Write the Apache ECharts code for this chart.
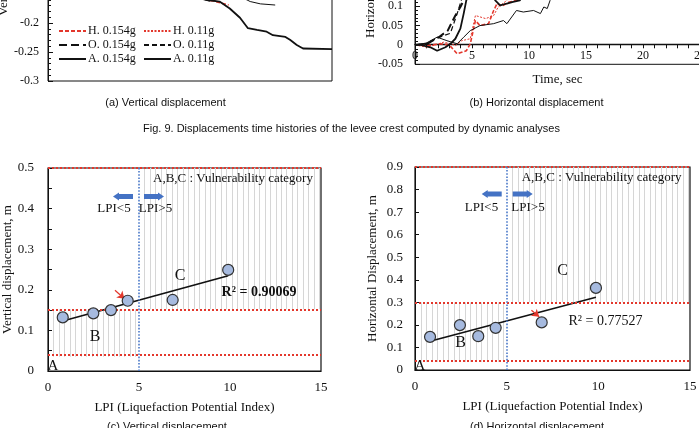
<!DOCTYPE html>
<html lang="en">
<head>
<meta charset="UTF-8">
<title>Fig. 9 / Fig. 10</title>
<script src="https://cdn.jsdelivr.net/npm/echarts@6/dist/echarts.min.js"></script>
<style>
    html, body { margin: 0; padding: 0; background: #fff; }
    #main { width: 699px; height: 428px; }
</style>
</head>
<body>
<div id="main"></div>
<script>
    // ---- (a) vertical displacement time histories [time s, disp m]
    var vH154 = [[13.8, -0.158], [14.1, -0.161], [14.6, -0.162], [15.3, -0.166], [15.9, -0.169]];
    var vH11 = [[14.0, -0.158], [14.4, -0.161], [14.8, -0.162]];
    var vO154 = [[13.6, -0.157], [14.1, -0.161], [14.4, -0.162]];
    var vO11 = [[13.8, -0.157], [14.2, -0.160]];
    var vA154 = [[13.5, -0.158], [13.9, -0.160], [15.1, -0.163], [16.0, -0.175], [16.9, -0.191], [17.6, -0.209],
        [18.4, -0.212], [19.25, -0.215], [19.8, -0.221], [20.9, -0.224], [21.3, -0.229], [21.9, -0.238],
        [22.45, -0.244], [25, -0.245]];
    var vA11 = [[17.2, -0.158], [17.5, -0.160], [17.8, -0.163], [18.7, -0.167], [20.0, -0.169]];

    // ---- (b) horizontal displacement time histories
    var hH154 = [[0, 0], [1.07, -0.002], [2.2, 0.003], [3.0, 0.0], [3.7, -0.023], [4.5, -0.015], [4.85, 0.003],
        [5.3, 0.063], [5.7, 0.05], [6.45, 0.055], [6.9, 0.089], [7.2, 0.107], [7.6, 0.1], [8.2, 0.11], [8.9, 0.115], [9.2, 0.14]];
    var hH11 = [[0, 0], [1.07, -0.006], [2.5, 0.007], [3.2, 0.003], [3.54, -0.002], [4.1, 0.011], [4.85, 0.016],
        [5.3, 0.076], [6.2, 0.068], [6.9, 0.076], [7.3, 0.098], [8.06, 0.115], [8.5, 0.14]];
    var hO154 = [[0, 0], [1.07, 0.003], [2.08, 0.02], [2.87, 0.037], [3.54, 0.076], [3.98, 0.098], [4.27, 0.115], [4.6, 0.14]];
    var hO11 = [[0, 0], [1.0, 0.004], [1.94, 0.018], [3.1, 0.03], [3.7, 0.081], [4.06, 0.115], [4.4, 0.14]];
    var hA154 = [[0, 0], [0.5, 0], [1.35, -0.006], [1.94, -0.015], [2.67, -0.006], [3.1, 0.003], [3.54, 0.016],
        [3.98, 0.042], [4.27, 0.081], [4.5, 0.115], [5.0, 0.15], [6.5, 0.15], [7.04, 0.115], [7.47, 0.102],
        [8.06, 0.107], [8.6, 0.111], [9.2, 0.115], [9.6, 0.14]];
    var hA11 = [[0, 0], [1.0, 0.005], [1.94, 0.02], [2.8, 0.011], [3.7, 0.003], [4.27, 0.02], [4.85, 0.037],
        [5.7, 0.05], [6.9, 0.055], [7.76, 0.063], [8.06, 0.055], [8.9, 0.089], [9.5, 0.085], [10.4, 0.089],
        [11, 0.081], [11.3, 0.098], [11.6, 0.094], [11.85, 0.115], [12.2, 0.14]];

    // ---- (c)/(d) LPI vs displacement
    var lpiV = [0.81, 2.49, 3.46, 4.38, 6.85, 9.9];
    var dispV = [0.132, 0.142, 0.150, 0.173, 0.175, 0.249];
    var lpiH = [0.82, 2.45, 3.45, 4.4, 6.91, 9.87];
    var dispH = [0.147, 0.199, 0.150, 0.187, 0.211, 0.364];
    // category boundaries (A/B, B/C, top)
    var boundV = [0.035, 0.152, 0.5];
    var boundH = [0.035, 0.3, 0.9];
    var lpiLimit = 5;

    var myChart = echarts.init(document.getElementById('main'));
    var serif = 'Liberation Serif';
    var red = '#e3372c';
    var blue = '#4a78c8';

    function pairs(xs, ys) {
        var out = [];
        for (var i = 0; i < xs.length; i++) out.push([xs[i], ys[i]]);
        return out;
    }

    // least squares line over the range of the points
    function fitLine(xs, ys) {
        var n = xs.length, mx = 0, my = 0, sxy = 0, sxx = 0;
        for (var i = 0; i < n; i++) { mx += xs[i]; my += ys[i]; }
        mx /= n; my /= n;
        for (var j = 0; j < n; j++) {
            sxy += (xs[j] - mx) * (ys[j] - my);
            sxx += (xs[j] - mx) * (xs[j] - mx);
        }
        var b = sxy / sxx, a = my - b * mx;
        var x0 = Math.min.apply(null, xs), x1 = Math.max.apply(null, xs);
        return [[x0, a + b * x0], [x1, a + b * x1]];
    }

    var styles = {
        'H. 0.154g': { color: red, width: 1.6, type: [4, 2] },
        'H. 0.11g': { color: red, width: 1, type: [2, 1.5] },
        'O. 0.154g': { color: '#111', width: 2, type: [8, 4] },
        'O. 0.11g': { color: '#111', width: 1.2, type: [5, 3] },
        'A. 0.154g': { color: '#111', width: 1.8, type: 'solid' },
        'A. 0.11g': { color: '#111', width: 1, type: 'solid' }
    };

    function tsLine(name, data, idx) {
        return {
            name: name, type: 'line', xAxisIndex: idx, yAxisIndex: idx,
            data: data, symbol: 'none', showSymbol: false, z: 3,
            lineStyle: styles[name], itemStyle: { color: styles[name].color }
        };
    }

    // vertical hatching inside rectangles [x0, x1, y0, y1]
    function hatch(idx, rects) {
        return {
            type: 'custom', xAxisIndex: idx, yAxisIndex: idx, silent: true, z: 1,
            data: rects,
            renderItem: function (params, api) {
                var x0 = api.value(0), x1 = api.value(1), y0 = api.value(2), y1 = api.value(3);
                var kids = [];
                for (var x = x0 + 0.3; x < x1 - 0.05; x += 0.3) {
                    var p0 = api.coord([x, y0]), p1 = api.coord([x, y1]);
                    var px = Math.round(p0[0]) + 0.5;
                    kids.push({
                        type: 'line',
                        shape: { x1: px, y1: p0[1], x2: px, y2: p1[1] },
                        style: { stroke: '#d6d6d6', lineWidth: 1 }
                    });
                }
                return { type: 'group', children: kids };
            }
        };
    }

    function pointSeries(idx, xs, ys, bounds) {
        return {
            type: 'scatter', xAxisIndex: idx, yAxisIndex: idx, z: 5,
            data: pairs(xs, ys), symbolSize: 11,
            itemStyle: { color: '#a6badf', borderColor: '#333', borderWidth: 1.2, opacity: 1 },
            markLine: {
                silent: true, symbol: 'none', label: { show: false },
                lineStyle: { color: red, type: 'dotted', width: 2 },
                data: [{ yAxis: bounds[0] }, { yAxis: bounds[1] }, { yAxis: bounds[2] },
                    { xAxis: lpiLimit, lineStyle: { color: blue, type: 'dotted', width: 1.6 } }]
            }
        };
    }

    function trend(idx, xs, ys) {
        return {
            type: 'line', xAxisIndex: idx, yAxisIndex: idx, z: 4,
            data: fitLine(xs, ys), symbol: 'none',
            lineStyle: { color: '#111', width: 1.6 }
        };
    }

    function redArrow(idx, from, to) {
        return {
            type: 'scatter', xAxisIndex: idx, yAxisIndex: idx, data: [], z: 6,
            markLine: {
                silent: true, symbol: ['none', 'arrow'], symbolSize: 7, label: { show: false },
                lineStyle: { color: red, type: 'solid', width: 1.2 },
                data: [[{ coord: from }, { coord: to }]]
            }
        };
    }

    function fatArrow(tipX, tailX, y) {
        var d = tipX < tailX ? 1 : -1, neck = tipX + d * 6;
        return {
            type: 'polygon', silent: true, z: 100,
            shape: { points: [[tipX, y], [neck, y - 4], [neck, y - 2.5], [tailX, y - 2.5], [tailX, y + 2.5], [neck, y + 2.5], [neck, y + 4]] },
            style: { fill: '#4472c4' }
        };
    }

    function txt(x, y, s, font, align, extra) {
        var o = {
            type: 'text', x: x, y: y, silent: true, z: 100,
            style: { text: s, font: font, fill: '#111', align: align || 'center', verticalAlign: 'middle' }
        };
        if (extra) for (var k in extra) o[k] = extra[k];
        return o;
    }

    var nameText = { color: '#111', fontFamily: serif, fontSize: 13 };
    var blackLine = { lineStyle: { color: '#111', width: 1 } };
    var legendBase = {
        orient: 'vertical', top: 25, itemWidth: 27, itemHeight: 12, itemGap: 2, padding: 0,
        itemStyle: { opacity: 0, color: 'rgba(0,0,0,0)', borderColor: 'rgba(0,0,0,0)', borderWidth: 0 },
        textStyle: { color: '#111', fontFamily: serif, fontSize: 12, padding: [0, 0, 0, -3] }
    };

    var option = {
        animation: false,
        backgroundColor: '#fff',
        grid: [
            { left: 48, top: -6, width: 284, height: 87, show: true, borderColor: '#111', borderWidth: 1, outerBoundsMode: 'none' },
            { left: 415, top: -32.5, width: 285, height: 96.8, show: true, borderColor: '#111', borderWidth: 1, outerBoundsMode: 'none' },
            { left: 48, top: 168, width: 273, height: 203, show: true, borderColor: '#111', borderWidth: 1.2, outerBoundsMode: 'none' },
            { left: 415, top: 167, width: 275, height: 203, show: true, borderColor: '#111', borderWidth: 1.2, outerBoundsMode: 'none' }
        ],
        xAxis: [
            { gridIndex: 0, type: 'value', min: 0, max: 25, interval: 5, show: false },
            {
                // time axis drawn at displacement = 0 (20 px above the frame bottom)
                gridIndex: 1, type: 'value', min: 0, max: 25, interval: 5, position: 'bottom', offset: -20,
                axisLine: { onZero: false, lineStyle: { color: '#111', width: 1.3 } },
                axisTick: { show: true, length: 4, lineStyle: { color: '#111' } },
                minorTick: { show: true, splitNumber: 5, length: 4, lineStyle: { color: '#111' } },
                splitLine: { show: false },
                axisLabel: { color: '#111', fontFamily: serif, fontSize: 12, margin: 6 },
                name: 'Time, sec', nameLocation: 'middle', nameGap: 29, nameTextStyle: nameText
            },
            {
                gridIndex: 2, type: 'value', min: 0, max: 15, interval: 5,
                axisLine: blackLine, axisTick: { show: false }, splitLine: { show: false },
                axisLabel: { color: '#111', fontFamily: serif, fontSize: 13, margin: 10 },
                name: 'LPI (Liquefaction Potential Index)', nameLocation: 'middle', nameGap: 30, nameTextStyle: nameText
            },
            {
                gridIndex: 3, type: 'value', min: 0, max: 15, interval: 5,
                axisLine: blackLine, axisTick: { show: false }, splitLine: { show: false },
                axisLabel: { color: '#111', fontFamily: serif, fontSize: 13, margin: 10 },
                name: 'LPI (Liquefaction Potential Index)', nameLocation: 'middle', nameGap: 30, nameTextStyle: nameText
            }
        ],
        yAxis: [
            {
                gridIndex: 0, type: 'value', min: -0.3, max: -0.15, interval: 0.05,
                axisLine: blackLine, splitLine: { show: false },
                axisTick: { inside: true, length: 5, lineStyle: { color: '#111' } },
                minorTick: { show: true, splitNumber: 5, length: 3, lineStyle: { color: '#111' } },
                axisLabel: { color: '#111', fontFamily: serif, fontSize: 12, margin: 9 }
            },
            {
                gridIndex: 1, type: 'value', min: -0.05, max: 0.2, interval: 0.05,
                axisLine: blackLine, splitLine: { show: false },
                axisTick: { inside: true, length: 5, lineStyle: { color: '#111' } },
                minorTick: { show: true, splitNumber: 5, length: 3, lineStyle: { color: '#111' } },
                axisLabel: { color: '#111', fontFamily: serif, fontSize: 12, margin: 12 }
            },
            {
                gridIndex: 2, type: 'value', min: 0, max: 0.5, interval: 0.1,
                axisLine: blackLine, splitLine: { show: false },
                axisTick: { inside: true, length: 4, lineStyle: { color: '#111' } },
                minorTick: { show: true, splitNumber: 2, length: 4, lineStyle: { color: '#111' } },
                axisLabel: { color: '#111', fontFamily: serif, fontSize: 13, margin: 14 },
                name: 'Vertical displacement, m', nameLocation: 'middle', nameGap: 31, nameTextStyle: nameText
            },
            {
                gridIndex: 3, type: 'value', min: 0, max: 0.9, interval: 0.1,
                axisLine: blackLine, splitLine: { show: false },
                axisTick: { inside: true, length: 4, lineStyle: { color: '#111' } },
                axisLabel: { color: '#111', fontFamily: serif, fontSize: 13, margin: 12 },
                name: 'Horizontal Displacement, m', nameLocation: 'middle', nameGap: 36, nameTextStyle: nameText
            }
        ],
        legend: [
            Object.assign({ data: ['H. 0.154g', 'O. 0.154g', 'A. 0.154g'], left: 58 }, legendBase),
            Object.assign({ data: ['H. 0.11g', 'O. 0.11g', 'A. 0.11g'], left: 143 }, legendBase)
        ],
        series: [
            tsLine('H. 0.154g', vH154, 0), tsLine('H. 0.11g', vH11, 0),
            tsLine('O. 0.154g', vO154, 0), tsLine('O. 0.11g', vO11, 0),
            tsLine('A. 0.154g', vA154, 0), tsLine('A. 0.11g', vA11, 0),
            tsLine('H. 0.154g', hH154, 1), tsLine('H. 0.11g', hH11, 1),
            tsLine('O. 0.154g', hO154, 1), tsLine('O. 0.11g', hO11, 1),
            tsLine('A. 0.154g', hA154, 1), tsLine('A. 0.11g', hA11, 1),

            hatch(2, [[0, lpiLimit, boundV[0], boundV[1]], [lpiLimit, 15, boundV[1], boundV[2]]]),
            pointSeries(2, lpiV, dispV, boundV),
            trend(2, lpiV, dispV),
            redArrow(2, [3.68, 0.199], [4.2, 0.178]),

            hatch(3, [[0, lpiLimit, boundH[0], boundH[1]], [lpiLimit, 15, boundH[1], boundH[2]]]),
            pointSeries(3, lpiH, dispH, boundH),
            trend(3, lpiH, dispH),
            redArrow(3, [6.35, 0.265], [6.77, 0.236])
        ],
        graphic: [
            txt(4, 16, 'Vertical displacement, m', '13px "Liberation Serif"', 'left', { rotation: Math.PI / 2 }),
            txt(371, 38, 'Horizontal displacement, m', '13px "Liberation Serif"', 'left', { rotation: Math.PI / 2 }),

            txt(165.5, 103, '(a) Vertical displacement', '11px "Liberation Sans"'),
            txt(536.5, 103, '(b) Horizontal displacement', '11px "Liberation Sans"'),
            txt(351.5, 129, 'Fig. 9. Displacements time histories of the levee crest computed by dynamic analyses', '11px "Liberation Sans"'),
            txt(167, 427, '(c) Vertical displacement', '11px "Liberation Sans"'),
            txt(537, 427, '(d) Horizontal displacement', '11px "Liberation Sans"'),

            // (c) annotations
            txt(153, 179, 'A,B,C : Vulnerability category', '13px "Liberation Serif"', 'left'),
            fatArrow(113, 133, 196.5), fatArrow(164, 144, 196.5),
            txt(114, 209, 'LPI<5', '13px "Liberation Serif"'),
            txt(155.5, 209, 'LPI>5', '13px "Liberation Serif"'),
            txt(180, 276, 'C', '16px "Liberation Serif"'),
            txt(95, 337, 'B', '16px "Liberation Serif"'),
            txt(53, 366, 'A', '15px "Liberation Serif"'),
            txt(259, 292, 'R² = 0.90069', 'bold 14px "Liberation Serif"'),

            // (d) annotations
            txt(521.7, 178, 'A,B,C : Vulnerability category', '13px "Liberation Serif"', 'left'),
            fatArrow(481.7, 501.7, 194), fatArrow(532.7, 512.7, 194),
            txt(481.5, 208, 'LPI<5', '13px "Liberation Serif"'),
            txt(528, 208, 'LPI>5', '13px "Liberation Serif"'),
            txt(562.7, 271, 'C', '16px "Liberation Serif"'),
            txt(460.7, 343, 'B', '16px "Liberation Serif"'),
            txt(420, 366, 'A', '15px "Liberation Serif"'),
            txt(605.5, 321, 'R² = 0.77527', '14px "Liberation Serif"')
        ]
    };

    myChart.setOption(option);
</script>
</body>
</html>
